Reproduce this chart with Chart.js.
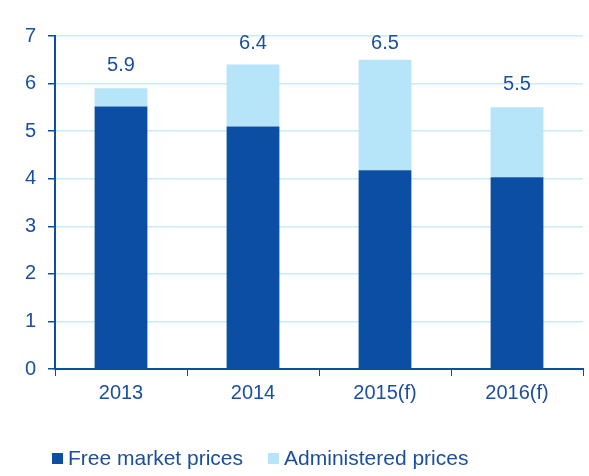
<!DOCTYPE html>
<html>
<head>
<meta charset="utf-8">
<script src="https://cdn.jsdelivr.net/npm/chart.js@4/dist/chart.umd.min.js"></script>
<style>
html,body{margin:0;padding:0;background:#fff;}
#wrap{width:589px;height:476px;position:relative;}
#legend{position:absolute;left:52px;top:446px;display:flex;align-items:center;font-family:'Liberation Sans',Arial,sans-serif;font-size:21px;color:#1a4f9f;line-height:24px;white-space:nowrap;}
#legend .item{display:flex;align-items:center;}
#legend .box{width:11px;height:11px;margin-right:5px;}
</style>
</head>
<body>
<div id="wrap"><canvas id="c" width="589" height="476"></canvas>
<div id="legend"></div></div>
<script>
const categories = ["2013", "2014", "2015(f)", "2016(f)"];
const freeMarket = [5.52, 5.1, 4.18, 4.03];
const administered = [0.38, 1.3, 2.32, 1.47];
const totals = ["5.9", "6.4", "6.5", "5.5"];
const yTicks = [0, 1, 2, 3, 4, 5, 6, 7];
const seriesNames = ["Free market prices", "Administered prices"];

const DARK = "#0a4fa3";
const LIGHT = "#b6e4f8";
const TEXT = "#1a4f9f";
const GRID = "#c8ebf8";
const FONT = "'Liberation Sans', Arial, sans-serif";

const totalLabels = {
  id: "totalLabels",
  afterDatasetsDraw(chart) {
    const ctx = chart.ctx;
    const meta = chart.getDatasetMeta(1);
    ctx.save();
    ctx.fillStyle = TEXT;
    ctx.font = "20px " + FONT;
    ctx.textAlign = "center";
    ctx.textBaseline = "middle";
    meta.data.forEach((bar, i) => {
      const y = Math.max(bar.y - 22.5, chart.chartArea.top + 7);
      ctx.fillText(totals[i], bar.x, y);
    });
    ctx.restore();
  }
};

const chart = new Chart(document.getElementById("c"), {
  type: "bar",
  data: {
    labels: categories,
    datasets: [
      { label: seriesNames[0], data: freeMarket, backgroundColor: DARK, barPercentage: 0.4, categoryPercentage: 1.0 },
      { label: seriesNames[1], data: administered, backgroundColor: LIGHT, barPercentage: 0.4, categoryPercentage: 1.0 }
    ]
  },
  options: {
    responsive: false,
    animation: false,
    layout: { padding: { top: 36, right: 6, left: 0, bottom: 0 } },
    plugins: {
      tooltip: { enabled: false },
      legend: { display: false }
    },
    scales: {
      x: {
        stacked: true,
        afterFit(scale) { scale.height = 476 - 369; },
        grid: { display: true, drawOnChartArea: false, drawTicks: true, tickLength: 7, tickColor: DARK, offset: true },
        border: { color: DARK, width: 2 },
        ticks: { color: TEXT, font: { family: FONT, size: 20 }, padding: 5 }
      },
      y: {
        stacked: true,
        min: 0,
        max: 7,
        afterFit(scale) { scale.width = 55; },
        afterBuildTicks(axis) { axis.ticks = yTicks.map(v => ({ value: v })); },
        grid: { color: GRID, lineWidth: 1.5, tickColor: DARK, tickLength: 7 },
        border: { color: DARK, width: 2 },
        ticks: { color: TEXT, font: { family: FONT, size: 20 }, padding: 12 }
      }
    }
  },
  plugins: [totalLabels]
});

const legendEl = document.getElementById("legend");
chart.data.datasets.forEach((ds, i) => {
  const item = document.createElement("span");
  item.className = "item";
  if (i > 0) item.style.marginLeft = "25px";
  const box = document.createElement("span");
  box.className = "box";
  box.style.background = ds.backgroundColor;
  const txt = document.createElement("span");
  txt.textContent = ds.label;
  item.appendChild(box);
  item.appendChild(txt);
  legendEl.appendChild(item);
});
</script>
</body>
</html>
